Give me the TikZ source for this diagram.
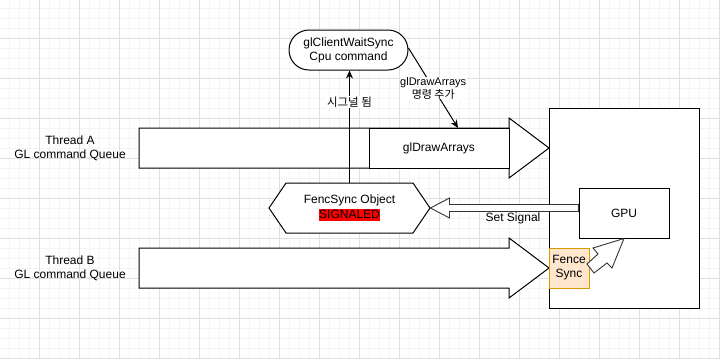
\documentclass[tikz,border=0pt]{standalone}
\usepackage{fontspec}
\setmainfont{Liberation Sans}
\newfontfamily\krfont{Noto Sans CJK KR}
\usetikzlibrary{arrows.meta,calc}
\definecolor{gridminor}{HTML}{F4F4F4}
\definecolor{gridmajor}{HTML}{DFDFDF}
\definecolor{fencefill}{HTML}{FFE6CC}
\definecolor{fencedraw}{HTML}{D79B00}
\definecolor{sigred}{HTML}{FF0000}
\definecolor{flexgray}{HTML}{333333}
\begin{document}
\begin{tikzpicture}[x=1pt,y=-1pt,line width=1pt,
  txt/.style={font=\fontsize{12}{14}\selectfont,align=center,inner sep=0pt},
  smalltxt/.style={font=\fontsize{11}{13}\selectfont,align=center,inner sep=0.5pt},
  box/.style={draw,fill=white,line width=1pt,inner sep=0pt,align=center,font=\fontsize{12}{14}\selectfont},
  conn/.style={draw,line width=1pt,-{Stealth[length=8pt,width=7pt,inset=2.5pt]}},
  blockarrow/.style={draw,fill=white,line width=1pt,line join=miter},
  flex/.style={draw=flexgray,fill=white,line width=0.9pt,line join=miter},
  lbl/.style={fill=white,align=center,inner sep=0.5pt}
]
\useasboundingbox (0,0) rectangle (720,359);
\fill[white] (0,0) rectangle (720,359);
% grid
\foreach \k in {0,...,71} {\draw[gridminor,line width=0.8pt] (9.5+10*\k,0) -- (9.5+10*\k,359);}
\foreach \k in {0,...,35} {\draw[gridminor,line width=0.8pt] (0,8.5+10*\k) -- (720,8.5+10*\k);}
\foreach \k in {0,...,17} {\draw[gridmajor,line width=0.8pt] (39.5+40*\k,0) -- (39.5+40*\k,359);}
\foreach \k in {0,...,8} {\draw[gridmajor,line width=0.8pt] (0,38.5+40*\k) -- (720,38.5+40*\k);}

% GPU container
\node[box,minimum width=150,minimum height=200] (cont) at (624,208) {};

% thread arrows
\draw[blockarrow] (139,128) -- (509,128) -- (509,118) -- (549,148) -- (509,178) -- (509,168) -- (139,168) -- cycle;
\draw[blockarrow] (139,248) -- (509,248) -- (509,238) -- (549,268) -- (509,298) -- (509,288) -- (139,288) -- cycle;

\node[box,minimum width=140,minimum height=40] (cmd) at (439,148) {glDrawArrays};

\node[txt] (thA) at (70,148) {Thread A\\GL command Queue};
\node[txt] (thB) at (70,268) {Thread B\\GL command Queue};

% GPU and fence
\node[box,minimum width=90,minimum height=50] (gpu) at (624,213) {GPU};
\node[box,draw=fencedraw,fill=fencefill,minimum width=40,minimum height=40] (fence) at (569,268) {Fence\\Sync};

% stadium
\node[box,rounded corners=20pt,minimum width=119,minimum height=40] (stad) at (348.5,50) {glClientWaitSync\\Cpu command};

% hexagon
\draw[fill=white,line width=1pt,line join=miter] (269,208) -- (286,183) -- (413,183) -- (430,208) -- (413,233) -- (286,233) -- cycle;
\node[txt,minimum width=161,minimum height=50] (hex) at (349.5,208)
  {FencSync Object\\[1pt]{\setlength{\fboxsep}{0.5pt}\colorbox{sigred}{\rule[-2.5pt]{0pt}{11pt}SIGNALED}}};

% signal line
\draw[conn] (hex.north) -- (hex.north |- stad.south)
  node[pos=0.72,lbl,font=\krfont\fontsize{11.5}{13}\selectfont] (siglbl) {시그널 됨};

% glDrawArrays connector
\coordinate (addpt) at (458,128);
\draw[conn] ([yshift=2pt]stad.east) -- (addpt)
  node[midway,lbl,font=\fontsize{11}{13}\selectfont] (addlbl) {glDrawArrays\\{\krfont 명령 추가}};

% Set Signal flex arrow
\draw[flex] (hex.east) -- ++(19,-10) -- ++(0,6.5) -- ([yshift=3.5pt]gpu.west |- hex.east)
  -- ([yshift=-3.5pt]gpu.west |- hex.east) -- ($(hex.east)+(19,3.5)$) -- ++(0,6.5) -- cycle;
\node[txt] (setsig) at (513,218) {Set Signal};

% Fence -> GPU zigzag arrow
\draw[flex] (587,264) -- (598,254) -- (593,248) -- (gpu.south) -- (612,268) -- (607,263) -- (594,273) -- cycle;
\end{tikzpicture}
\end{document}
